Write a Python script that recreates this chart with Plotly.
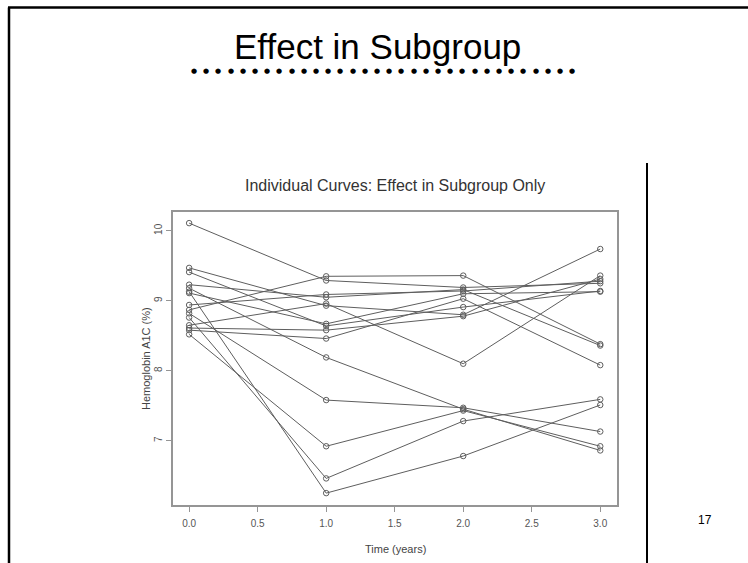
import plotly.graph_objects as go

W, H = 748, 563

# ---- data (Hemoglobin A1C, %) : one value per subject at each time ----
times = [0.0, 1.0, 2.0, 3.0]
hba1c_t0 = [10.11, 9.47, 9.41, 9.23, 9.18, 9.13, 9.11, 8.94, 8.87, 8.82, 8.76, 8.65, 8.61, 8.58, 8.52]
hba1c_t1 = [9.29, 8.93, 8.64, 9.05, 8.19, 6.25, 8.67, 9.09, 9.35, 7.58, 6.46, 8.96, 8.58, 8.46, 6.92]
hba1c_t2 = [9.19, 8.80, 8.91, 9.16, 7.45, 6.78, 9.10, 9.14, 9.36, 7.47, 7.28, 8.10, 8.78, 9.03, 7.43]
hba1c_t3 = [9.25, 9.74, 9.14, 8.36, 6.86, 7.51, 9.13, 9.28, 8.38, 7.13, 7.59, 9.36, 9.31, 8.08, 6.92]

x_ticks = [0.0, 0.5, 1.0, 1.5, 2.0, 2.5, 3.0]
x_tick_labels = ["0.0", "0.5", "1.0", "1.5", "2.0", "2.5", "3.0"]
y_ticks = [7, 8, 9, 10]
y_tick_labels = ["7", "8", "9", "10"]

slide_title = "Effect in Subgroup"
chart_title = "Individual Curves: Effect in Subgroup Only"
x_title = "Time (years)"
y_title = "Hemoglobin A1C (%)"
page_number = "17"
n_title_dots = 32

# ---- layout helpers (pixel -> paper) ----
def px(x):
    return x / W

def py(y):
    return 1 - y / H

plot_l, plot_r, plot_t, plot_b = 172.7, 616.7, 212.3, 505.0

fig = go.Figure()
line_col = "#5e5e5e"
for i in range(len(hba1c_t0)):
    vals = [hba1c_t0[i], hba1c_t1[i], hba1c_t2[i], hba1c_t3[i]]
    fig.add_trace(go.Scatter(
        x=times, y=vals, mode="lines+markers",
        line=dict(color=line_col, width=1),
        marker=dict(symbol="circle-open", size=5.5, color=line_col, line=dict(width=1, color=line_col)),
        showlegend=False, hoverinfo="x+y",
    ))

axis_col = "#959595"
tick_font = dict(family="Liberation Sans, Arial, sans-serif", size=10, color="#555555")
fig.update_layout(
    width=W, height=H,
    margin=dict(l=0, r=0, t=0, b=0),
    paper_bgcolor="white", plot_bgcolor="white",
    xaxis=dict(
        domain=[px(plot_l), px(plot_r)], range=[-0.12, 3.12],
        tickvals=x_ticks, ticktext=x_tick_labels,
        showgrid=False, zeroline=False,
        showline=True, mirror=True, linecolor=axis_col, linewidth=1.5,
        ticks="outside", ticklen=5, tickcolor=axis_col, tickwidth=1,
        tickfont=tick_font, ticklabelstandoff=3,
    ),
    yaxis=dict(
        domain=[py(plot_b), py(plot_t)], range=[6.08, 10.265],
        tickvals=y_ticks, ticktext=y_tick_labels, tickangle=-90,
        showgrid=False, zeroline=False,
        showline=True, mirror=True, linecolor=axis_col, linewidth=1.5,
        ticks="outside", ticklen=5, tickcolor=axis_col, tickwidth=1,
        tickfont=tick_font, ticklabelstandoff=0,
    ),
)

font_main = "Liberation Sans, Arial, sans-serif"
ann = [
    dict(text=slide_title, x=px(377), y=py(46), font=dict(family=font_main, size=35, color="black")),
    dict(text=chart_title, x=px(395), y=py(185), font=dict(family=font_main, size=16, color="#333333")),
    dict(text=x_title, x=px(395), y=py(549), font=dict(family=font_main, size=11, color="#444444")),
    dict(text=y_title, x=px(146), y=py(359), textangle=-90, font=dict(family=font_main, size=11, color="#444444")),
    dict(text=page_number, x=px(705), y=py(520), font=dict(family=font_main, size=12, color="black")),
]
# dotted rule under the slide title
for k in range(n_title_dots):
    ann.append(dict(text="●", x=px(194 + k * 12.2), y=py(71),
                    font=dict(family="DejaVu Sans", size=7, color="black")))
for a in ann:
    a.update(xref="paper", yref="paper", showarrow=False, xanchor="center", yanchor="middle")
fig.update_layout(annotations=ann)

shapes = [
    dict(type="line", x0=px(8), x1=px(748), y0=py(7.5), y1=py(7.5), line=dict(color="black", width=2.5)),
    dict(type="line", x0=px(9), x1=px(9), y0=py(7.5), y1=py(563), line=dict(color="black", width=2.5)),
    dict(type="line", x0=px(647), x1=px(647), y0=py(163), y1=py(563), line=dict(color="black", width=2)),
]
for s in shapes:
    s.update(xref="paper", yref="paper")
fig.update_layout(shapes=shapes)

fig.write_html("out.html", config={"displayModeBar": False},
               post_script="document.body.style.margin='0';document.body.style.padding='0';")
